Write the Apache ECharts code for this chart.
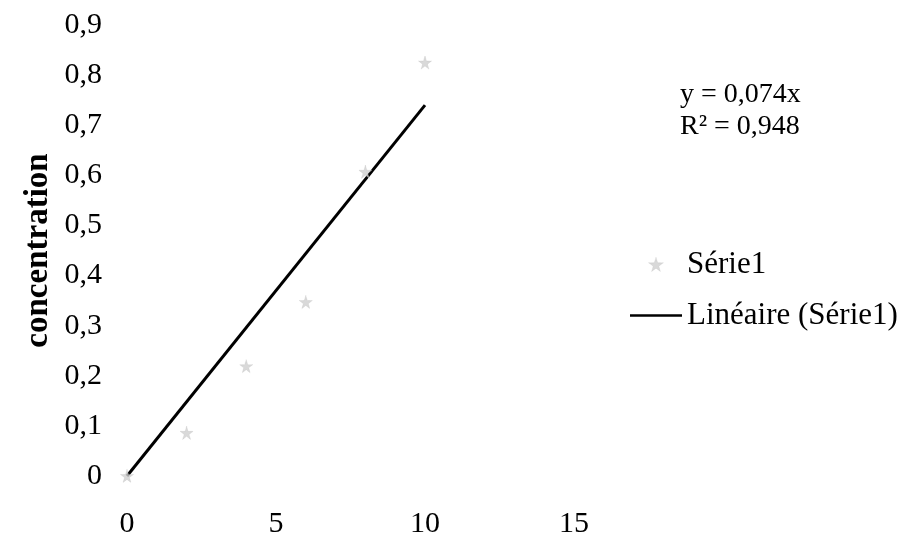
<!DOCTYPE html>
<html>
<head>
<meta charset="utf-8">
<script src="https://cdn.jsdelivr.net/npm/echarts@6/dist/echarts.min.js"></script>
<style>
  html, body { margin: 0; padding: 0; background: #fff; }
  #chart { width: 909px; height: 539px; }
</style>
</head>
<body>
<div id="chart"></div>
<script>
// Measured points
const xValues = [0, 2, 4, 6, 8, 10];
const concentration = [0, 0.086, 0.219, 0.347, 0.607, 0.825];
// Linear trend through the origin
const trendSlope = 0.074;
const trendR2 = 0.948;
const trendRange = [0, 10];
const xTicks = [0, 5, 10, 15];
const yTicks = [0, 0.1, 0.2, 0.3, 0.4, 0.5, 0.6, 0.7, 0.8, 0.9];

const fmt = v => String(Math.round(v * 1000) / 1000).replace('.', ',');
const serif = '"Liberation Serif", "Times New Roman", serif';
// light grey star used for the data markers
const starMark = 'path://M50,0 L61,35 L98,35 L68,57 L79,92 L50,70 L21,92 L32,57 L2,35 L39,35 Z';
const markStyle = { color: '#d0d0d0', borderColor: '#b8b8b8', borderWidth: 0.6, borderType: 'dotted' };
// plain stroke for the trend line legend entry
const lineIcon = 'path://M0,0 L52,0 L52,2.6 L0,2.6 Z';

const chart = echarts.init(document.getElementById('chart'), null, { renderer: 'canvas' });

chart.setOption({
  backgroundColor: '#fff',
  animation: false,
  grid: { left: 127, top: 25, width: 447, height: 452, containLabel: false },
  xAxis: {
    type: 'value', min: xTicks[0], max: xTicks[xTicks.length - 1], interval: 5,
    axisLine: { show: false }, axisTick: { show: false }, splitLine: { show: false },
    axisLabel: { margin: 33, color: '#000', fontFamily: serif, fontSize: 30, formatter: v => fmt(v) }
  },
  yAxis: {
    type: 'value', min: yTicks[0], max: yTicks[yTicks.length - 1], interval: 0.1,
    name: 'concentration', nameLocation: 'middle', nameGap: 72, nameRotate: 90,
    nameTextStyle: { color: '#000', fontFamily: serif, fontSize: 33, fontWeight: 'bold' },
    axisLine: { show: false }, axisTick: { show: false }, splitLine: { show: false },
    axisLabel: { margin: 25, color: '#000', fontFamily: serif, fontSize: 30, formatter: v => fmt(v) }
  },
  legend: {
    orient: 'vertical', left: 625, top: 244, itemWidth: 52, itemHeight: 14, itemGap: 20,
    symbolKeepAspect: true,
    textStyle: { color: '#000', fontFamily: serif, fontSize: 31 },
    data: [
      { name: 'Série1', icon: starMark, itemStyle: markStyle },
      { name: 'Linéaire (Série1)', icon: lineIcon, itemStyle: { color: '#000', borderWidth: 0 } }
    ]
  },
  graphic: [
    {
      type: 'text', left: 680, top: 79,
      style: {
        text: 'y = ' + fmt(trendSlope) + 'x\nR² = ' + fmt(trendR2),
        fill: '#000', font: '28px ' + serif, lineHeight: 32
      }
    }
  ],
  series: [
    {
      name: 'Linéaire (Série1)', type: 'line', z: 2,
      data: trendRange.map(x => [x, trendSlope * x]),
      symbol: 'none', lineStyle: { color: '#000', width: 3 }, itemStyle: { color: '#000' }
    },
    {
      name: 'Série1', type: 'scatter', z: 3,
      data: xValues.map((x, i) => [x, concentration[i]]),
      symbol: starMark, symbolSize: 13,
      itemStyle: markStyle
    }
  ]
});
</script>
</body>
</html>
